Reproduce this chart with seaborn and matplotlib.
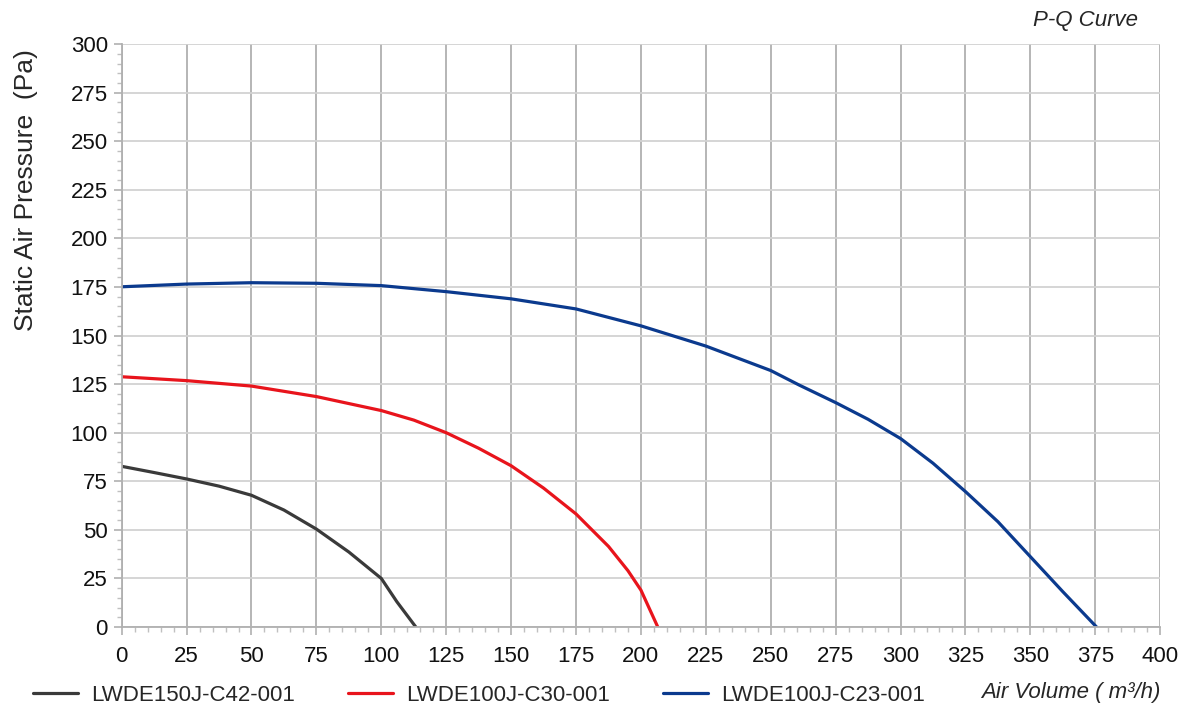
import pandas as pd
import numpy as np
import matplotlib.pyplot as plt
import seaborn as sns
from matplotlib.ticker import MultipleLocator

# data
q_c42 = [0, 12.5, 25, 37.5, 50, 62.5, 75, 87.5, 100, 106, 113.3]
p_c42 = [82.7, 79.5, 76.2, 72.5, 67.8, 60.2, 50.4, 38.6, 25, 13, 0]

q_c30 = [0, 25, 50, 75, 100, 112.5, 125, 137.5, 150, 162.5, 175, 187.5, 195, 200, 206.5]
p_c30 = [128.8, 126.8, 124, 118.6, 111.4, 106.5, 100, 92, 83, 71.5, 58.2, 41.5, 29, 19, 0]

q_c23 = [0, 25, 50, 75, 100, 125, 150, 175, 200, 225, 250, 261, 275, 287.5, 300,
         312.5, 325, 337.5, 350, 362.5, 375.5]
p_c23 = [175.1, 176.5, 177.2, 176.9, 175.7, 172.6, 168.9, 163.7, 155, 144.6, 132,
         124.5, 115.5, 106.9, 97, 84.3, 69.7, 54.2, 36.2, 18.2, 0]

names = ["LWDE150J-C42-001", "LWDE100J-C30-001", "LWDE100J-C23-001"]
colors = ["#3a3a3a", "#e8141c", "#0b3a8e"]

df = pd.concat([
    pd.DataFrame({"q": q_c42, "p": p_c42, "model": names[0]}),
    pd.DataFrame({"q": q_c30, "p": p_c30, "model": names[1]}),
    pd.DataFrame({"q": q_c23, "p": p_c23, "model": names[2]}),
])

sns.set_style("white")
plt.rcParams["font.family"] = ["Liberation Sans", "DejaVu Sans"]

fig = plt.figure(figsize=(12, 7.17), dpi=100)
ax = fig.add_axes([0.1014, 0.1255, 0.8654, 0.813])

sns.lineplot(data=df, x="q", y="p", hue="model", palette=colors, linewidth=2.3,
             sort=False, estimator=None, ax=ax, legend=True)

ax.set_xlim(0, 400)
ax.set_ylim(0, 300)
ax.xaxis.set_major_locator(MultipleLocator(25))
ax.xaxis.set_minor_locator(MultipleLocator(5))
ax.yaxis.set_major_locator(MultipleLocator(25))
ax.yaxis.set_minor_locator(MultipleLocator(5))
ax.grid(True, axis="x", which="major", color="#b0b0b0", linewidth=1.3)
ax.grid(True, axis="y", which="major", color="#d2d2d2", linewidth=1.3)
ax.set_axisbelow(True)
for s in ["top", "right"]:
    ax.spines[s].set_visible(False)
for s in ["left", "bottom"]:
    ax.spines[s].set_color("#b0b0b0")
    ax.spines[s].set_linewidth(1.3)
ax.tick_params(axis="both", which="major", length=6, color="#b0b0b0", width=1.2,
               labelsize=16, labelcolor="#111111")
ax.tick_params(axis="both", which="minor", length=3.6, color="#c0c0c0", width=1)
ax.tick_params(axis="x", which="both", bottom=True, pad=8)
ax.tick_params(axis="y", which="both", left=True, pad=4)

ax.set_xlabel("")
ax.set_ylabel("")
fig.text(26 / 1200, 1 - 190 / 717, "Static Air Pressure  (Pa)", rotation=90,
         fontsize=19, ha="center", va="center")

fig.text(0.9667, 0.034, "Air Volume ( m³/h)", style="italic", fontsize=16, ha="right", va="center")
fig.text(0.948, 0.972, "P-Q Curve", style="italic", fontsize=16, ha="right", va="center")

h, l = ax.get_legend_handles_labels()
ax.legend(h, l, loc="center left", bbox_to_anchor=(0.011, 0.03), bbox_transform=fig.transFigure,
          ncol=3, frameon=False, fontsize=16, handlelength=2.0, columnspacing=2.4,
          handletextpad=0.6)

fig.savefig("out.png", dpi=100)
